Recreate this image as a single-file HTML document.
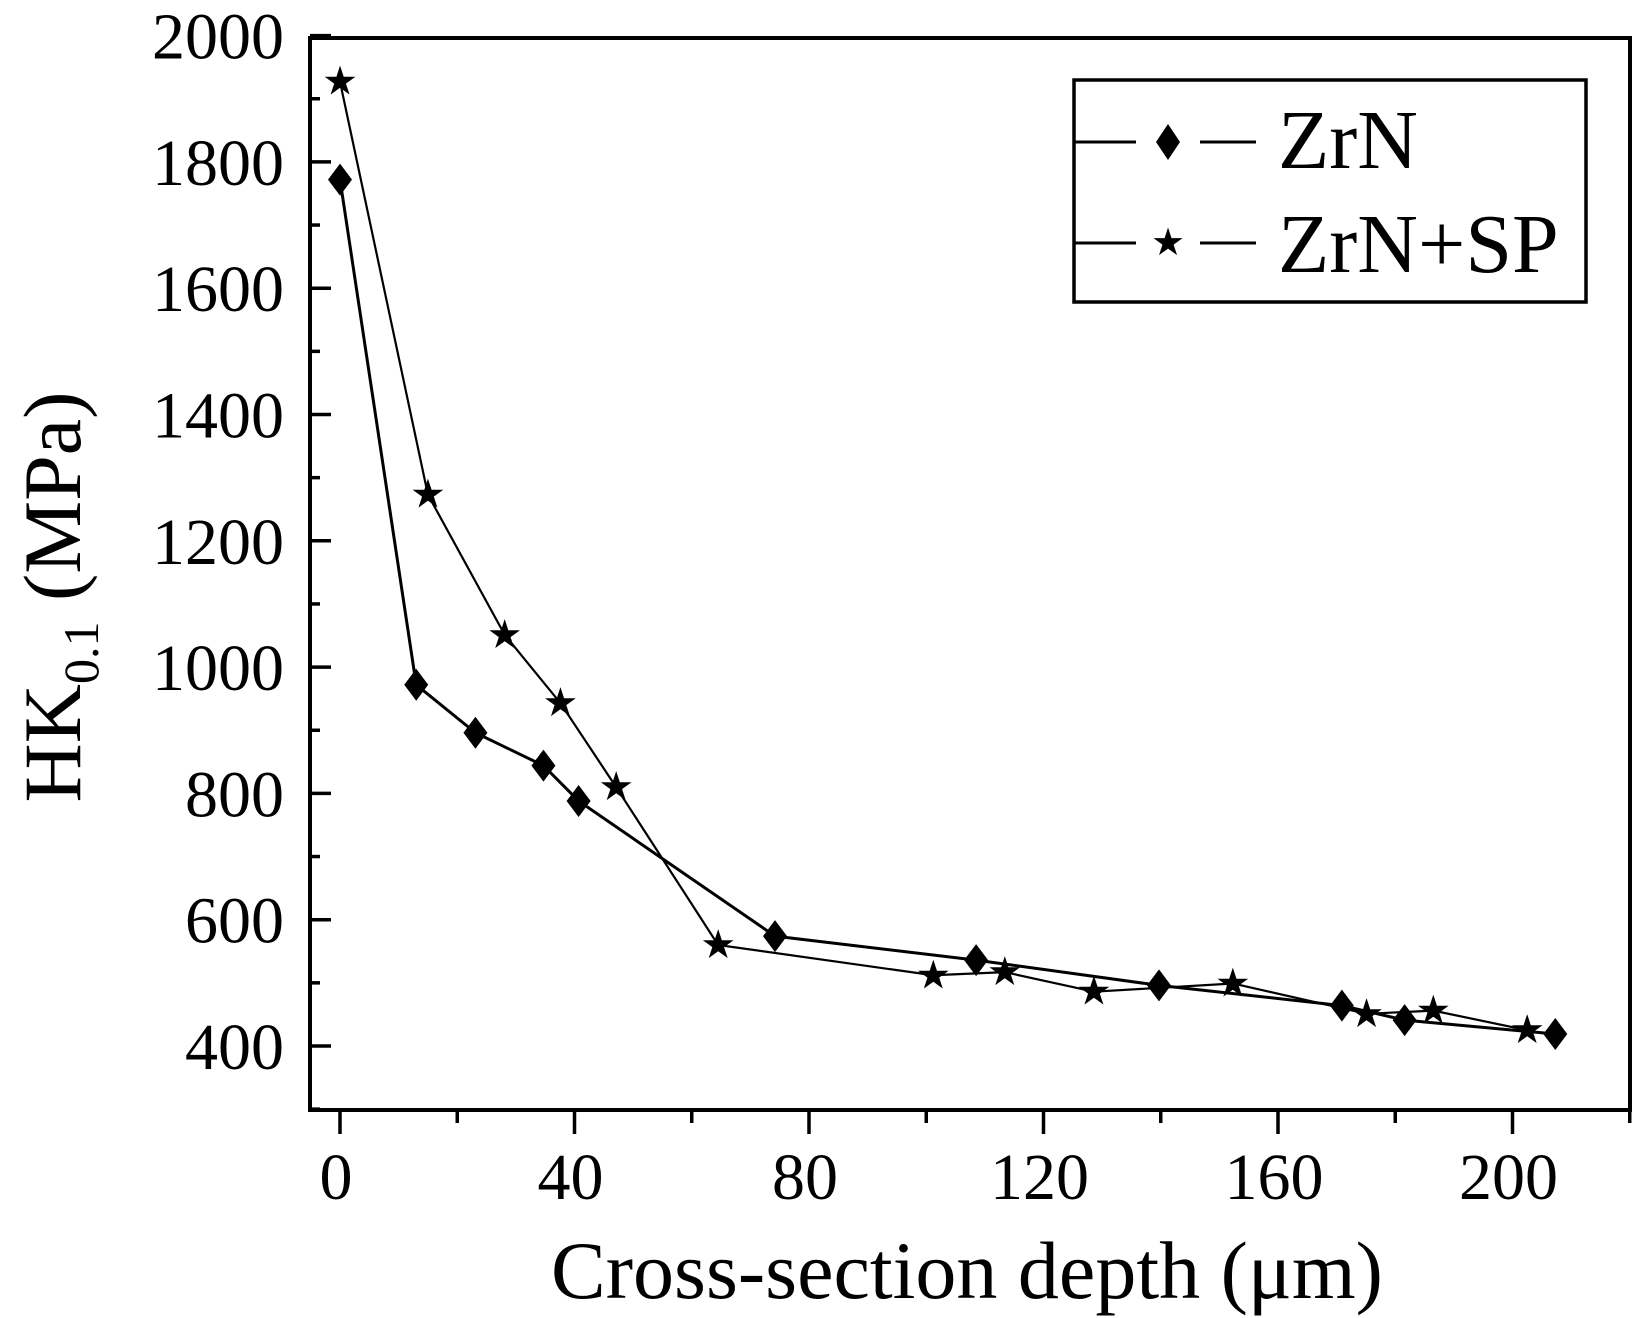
<!DOCTYPE html>
<html><head><meta charset="utf-8"><style>
html,body{margin:0;padding:0;background:#fff;}
svg{display:block;font-family:"Liberation Serif",serif;}
</style></head><body>
<svg id="chart" width="1648" height="1318" viewBox="0 0 1648 1318" xmlns="http://www.w3.org/2000/svg">
<g id="axes"></g>
<g id="series"></g>
<g>
<rect x="1074" y="80" width="512" height="222" fill="#fff" stroke="#000" stroke-width="3.5"/>
<g>
<line x1="1074" y1="142" x2="1136" y2="142" stroke="#000" stroke-width="3"/>
<line x1="1200" y1="142" x2="1256" y2="142" stroke="#000" stroke-width="3"/>
<path d="M1168,124 L1180,142 L1168,160 L1156,142 Z" fill="#000"/>
<text x="1278" y="168" font-size="84" fill="#000">ZrN</text>
</g>
<g>
<line x1="1074" y1="243" x2="1136" y2="243" stroke="#000" stroke-width="3"/>
<line x1="1200" y1="243" x2="1256" y2="243" stroke="#000" stroke-width="3"/>
<text x="1168" y="255" font-size="38" text-anchor="middle" fill="#000">★</text>
<text x="1278" y="272" font-size="84" fill="#000">ZrN+SP</text>
</g>
</g>
<text x="967" y="1298" font-size="82" text-anchor="middle" fill="#000">Cross-section depth (μm)</text>
<text transform="translate(80,597) rotate(-90)" font-size="82" text-anchor="middle" fill="#000">HK<tspan font-size="50" dy="18">0.1</tspan><tspan dy="-18"> (MPa)</tspan></text>
</svg>
<script>
const xTicks = [0, 40, 80, 120, 160, 200];
const yTicks = [400, 600, 800, 1000, 1200, 1400, 1600, 1800, 2000];
const zrnX = [0, 13.0, 23.1, 34.7, 40.7, 74.2, 108.5, 139.7, 170.9, 181.6, 207.3];
const zrnY = [1772, 972, 896, 844, 788, 574, 536, 496, 464, 441, 419];
const spX = [0, 15.0, 28.1, 37.6, 47.1, 64.5, 101.2, 113.4, 128.6, 152.3, 175.1, 186.5, 202.5];
const spY = [1927, 1273, 1051, 943, 810, 560, 512, 517, 486, 499, 451, 456, 425];

const NS = "http://www.w3.org/2000/svg";
const L = 310, R = 1630, T = 38, B = 1110;
function sx(v){ return 340 + v * 5.8625; }
function sy(v){ return 1046 - (v - 400) * 0.6315; }
function mk(tag, attrs, parent){
  const e = document.createElementNS(NS, tag);
  for (const k in attrs) e.setAttribute(k, attrs[k]);
  parent.appendChild(e);
  return e;
}
const axes = document.getElementById('axes');
const frame = mk('rect', {x:L, y:T, width:R-L, height:B-T, fill:'none', stroke:'#000', 'stroke-width':4}, axes);


for (let v = 300; v <= 2000; v += 100) {
  const major = v % 200 === 0;
  const t = mk('line', {x1:L, x2:L + (major ? 21 : 10), y1:sy(v), y2:sy(v), stroke:'#000', 'stroke-width':3.5}, axes);
  
  
}
yTicks.forEach(v => {
  const t = mk('text', {x:284, y:sy(v) + 23, 'font-size':66, 'text-anchor':'end', fill:'#000'}, axes);
  t.textContent = v;
  
  
});
for (let v = -20; v <= 220; v += 20) {
  if (sx(v) < L || sx(v) > R) continue;
  const major = v % 40 === 0;
  const t = mk('line', {x1:sx(v), x2:sx(v), y1:B, y2:B + (major ? 24 : 13), stroke:'#000', 'stroke-width':3.5}, axes);
  
  
}
xTicks.forEach(v => {
  const t = mk('text', {x:sx(v) - 4, y:1199, 'font-size':66, 'text-anchor':'middle', fill:'#000'}, axes);
  t.textContent = v;
  
  
});
const series = document.getElementById('series');
const p1 = mk('polyline', {points: zrnX.map((x,i)=>sx(x)+','+sy(zrnY[i])).join(' '), fill:'none', stroke:'#000', 'stroke-width':3}, series);


const p2 = mk('polyline', {points: spX.map((x,i)=>sx(x)+','+sy(spY[i])).join(' '), fill:'none', stroke:'#000', 'stroke-width':2.2}, series);


zrnX.forEach((x,i) => {
  const cx = sx(x), cy = sy(zrnY[i]);
  const d = mk('path', {d:`M${cx},${cy-16} L${cx+12},${cy} L${cx},${cy+16} L${cx-12},${cy} Z`, fill:'#000'}, series);
  
  
});
spX.forEach((x,i) => {
  const t = mk('text', {x:sx(x), y:sy(spY[i]) + 13, 'font-size':40, 'text-anchor':'middle', fill:'#000'}, series);
  t.textContent = '★';
  
  
});
</script>
</body></html>
